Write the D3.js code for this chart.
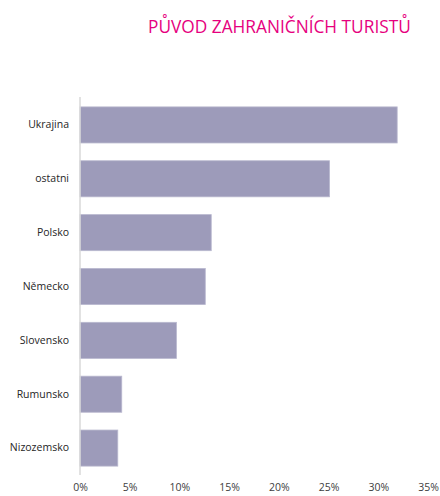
<!DOCTYPE html>
<html><head><meta charset="utf-8">
<script src="https://cdn.jsdelivr.net/npm/d3@7"></script>
<style>
html,body{margin:0;padding:0;background:#fff;}
svg{display:block;}
</style></head>
<body>
<script>
const title = "PŮVOD ZAHRANIČNÍCH TURISTŮ";
const categories = ["Ukrajina","ostatni","Polsko","Německo","Slovensko","Rumunsko","Nizozemsko"];
const values = [0.319, 0.251, 0.132, 0.126, 0.097, 0.042, 0.038];
const tickValues = [0,0.05,0.10,0.15,0.20,0.25,0.30,0.35];

const W = 440, H = 496;
const svg = d3.select("body").append("svg").attr("width", W).attr("height", H);

const t = svg.append("text").attr("x", 148).attr("y", 33)
  .attr("font-family", "'Open Sans', sans-serif").attr("font-size", 20).attr("font-weight", 400)
  .attr("fill", "#e6007e")
  .text(title);
const len = t.node().getComputedTextLength();
t.attr("font-size", 20 * 263 / len);

const x = d3.scaleLinear().domain([0, 0.35]).range([80, 428]);
const y = d3.scaleBand().domain(categories).range([98, 475]).paddingInner(0.33).paddingOuter(0.165);

svg.append("g").selectAll("rect").data(categories).join("rect")
  .attr("x", x(0))
  .attr("y", d => y(d))
  .attr("width", (d,i) => x(values[i]) - x(0))
  .attr("height", y.bandwidth())
  .attr("fill", "#9d9bba")
  .attr("stroke", "#b9b8cf").attr("stroke-width", 0.8);

svg.append("line").attr("x1", 80).attr("x2", 80).attr("y1", 97).attr("y2", 475)
  .attr("stroke", "#d9d9d9").attr("stroke-width", 1.5);

const yAxis = d3.axisLeft(y).tickSize(0).tickPadding(11);
svg.append("g").attr("transform", "translate(80,0)").call(yAxis)
  .call(g => g.select(".domain").remove())
  .selectAll("text").attr("font-family", "'Open Sans', sans-serif").attr("font-size", 10.5).attr("fill", "#262626");

const xAxis = d3.axisBottom(x).tickValues(tickValues).tickFormat(d3.format(".0%")).tickSize(0).tickPadding(0);
svg.append("g").attr("transform", "translate(0,484)").call(xAxis)
  .call(g => g.select(".domain").remove())
  .selectAll("text").attr("font-family", "'Open Sans', sans-serif").attr("font-size", 10.5).attr("fill", "#404040");
</script>
</body></html>
